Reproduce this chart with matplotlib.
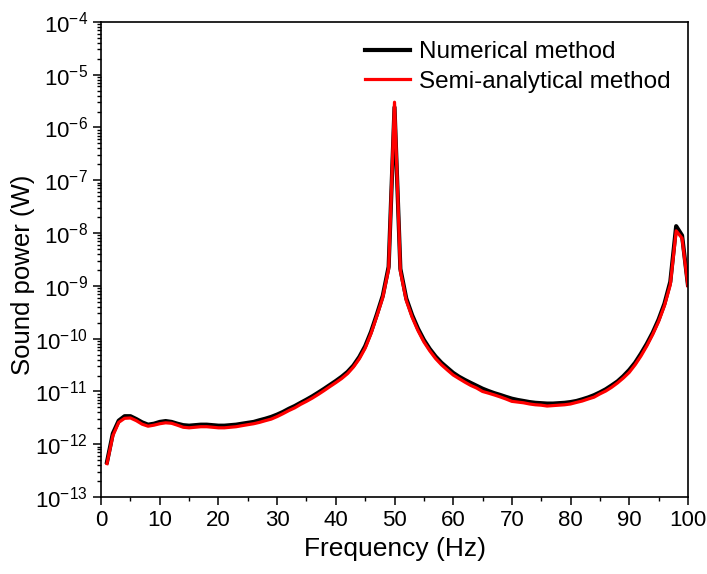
"""
Sound power spectrum: numerical vs semi-analytical method.
"""

import numpy as np
import matplotlib
matplotlib.use("Agg")
import matplotlib.pyplot as plt
from matplotlib.ticker import LogLocator, MultipleLocator, NullFormatter

plt.rcParams["font.family"] = ["Liberation Sans", "DejaVu Sans"]
plt.rcParams["mathtext.fontset"] = "custom"
plt.rcParams["mathtext.rm"] = "Liberation Sans"
plt.rcParams["mathtext.it"] = "Liberation Sans:italic"
plt.rcParams["mathtext.bf"] = "Liberation Sans:bold"

# ── Data ──────────────────────────────────────────────────────
freq = list(range(1, 101))

numerical = [
    4.6e-13, 1.6e-12, 2.8e-12, 3.4e-12, 3.4e-12, 3.0e-12, 2.6e-12, 2.35e-12, 2.45e-12, 2.65e-12,
    2.75e-12, 2.65e-12, 2.45e-12, 2.3e-12, 2.25e-12, 2.3e-12, 2.35e-12, 2.35e-12, 2.3e-12, 2.25e-12,
    2.25e-12, 2.3e-12, 2.35e-12, 2.45e-12, 2.55e-12, 2.65e-12, 2.85e-12, 3.05e-12, 3.3e-12, 3.65e-12,
    4.1e-12, 4.7e-12, 5.3e-12, 6.1e-12, 7.0e-12, 8.1e-12, 9.5e-12, 1.12e-11, 1.33e-11, 1.58e-11,
    1.9e-11, 2.35e-11, 3.1e-11, 4.5e-11, 7.2e-11, 1.35e-10, 2.9e-10, 6.5e-10, 2.3e-9, 2.4e-6,
    2.1e-9, 5.8e-10, 2.8e-10, 1.55e-10, 9.5e-11, 6.4e-11, 4.6e-11, 3.5e-11, 2.8e-11, 2.25e-11,
    1.9e-11, 1.65e-11, 1.45e-11, 1.28e-11, 1.13e-11, 1.02e-11, 9.3e-12, 8.6e-12, 7.9e-12, 7.3e-12,
    6.9e-12, 6.6e-12, 6.3e-12, 6.1e-12, 6.0e-12, 5.9e-12, 5.9e-12, 6.0e-12, 6.1e-12, 6.3e-12,
    6.6e-12, 7.1e-12, 7.7e-12, 8.5e-12, 9.6e-12, 1.1e-11, 1.3e-11, 1.55e-11, 1.95e-11, 2.55e-11,
    3.5e-11, 5.2e-11, 8.0e-11, 1.3e-10, 2.3e-10, 4.6e-10, 1.2e-9, 1.35e-8, 9.0e-9, 1.05e-9,
]

semi_analytical = [
    4.3e-13, 1.45e-12, 2.6e-12, 3.1e-12, 3.15e-12, 2.8e-12, 2.4e-12, 2.2e-12, 2.3e-12, 2.45e-12,
    2.55e-12, 2.5e-12, 2.3e-12, 2.1e-12, 2.05e-12, 2.1e-12, 2.15e-12, 2.15e-12, 2.1e-12, 2.05e-12,
    2.05e-12, 2.1e-12, 2.15e-12, 2.25e-12, 2.35e-12, 2.45e-12, 2.6e-12, 2.8e-12, 3.0e-12, 3.35e-12,
    3.8e-12, 4.35e-12, 4.9e-12, 5.7e-12, 6.5e-12, 7.5e-12, 8.8e-12, 1.04e-11, 1.24e-11, 1.47e-11,
    1.76e-11, 2.18e-11, 2.9e-11, 4.15e-11, 6.6e-11, 1.25e-10, 2.7e-10, 6.0e-10, 2.1e-9, 3.0e-6,
    1.9e-9, 5.3e-10, 2.55e-10, 1.42e-10, 8.7e-11, 5.9e-11, 4.2e-11, 3.2e-11, 2.55e-11, 2.05e-11,
    1.75e-11, 1.5e-11, 1.3e-11, 1.16e-11, 1.0e-11, 9.3e-12, 8.6e-12, 7.9e-12, 7.2e-12, 6.5e-12,
    6.3e-12, 6.1e-12, 5.8e-12, 5.6e-12, 5.5e-12, 5.3e-12, 5.4e-12, 5.5e-12, 5.6e-12, 5.8e-12,
    6.2e-12, 6.6e-12, 7.2e-12, 7.8e-12, 9.0e-12, 1.02e-11, 1.2e-11, 1.45e-11, 1.8e-11, 2.3e-11,
    3.2e-11, 4.7e-11, 7.3e-11, 1.2e-10, 2.1e-10, 4.2e-10, 1.05e-9, 1.1e-8, 8.0e-9, 1.0e-9,
]

# ── Plot ───────────────────────────────────────────────────────
fig = plt.figure(figsize=(7.07, 5.74), dpi=100)
ax = fig.add_axes([0.143, 0.134, 0.830, 0.828])

ax.plot(freq, numerical, color="black", lw=3.0, label="Numerical method")
ax.plot(freq, semi_analytical, color="red", lw=2.3, label="Semi-analytical method")

ax.set_yscale("log")
ax.set_xlim(0, 100)
ax.set_ylim(1e-13, 1e-4)

ax.xaxis.set_major_locator(MultipleLocator(10))
ax.xaxis.set_minor_locator(MultipleLocator(5))
ax.yaxis.set_major_locator(LogLocator(base=10, numticks=20))
ax.yaxis.set_minor_locator(LogLocator(base=10, subs=np.arange(2, 10), numticks=20))
ax.yaxis.set_minor_formatter(NullFormatter())

ax.tick_params(which="major", direction="out", length=6, width=1.1,
               labelsize=16, top=False, right=False)
ax.tick_params(which="minor", direction="out", length=3, width=1.0,
               top=False, right=False)
for sp in ax.spines.values():
    sp.set_linewidth(1.2)

ax.set_xlabel("Frequency (Hz)", fontsize=19, labelpad=4)
ax.set_ylabel("Sound power (W)", fontsize=18.5)
ax.yaxis.set_label_coords(-0.112, 0.467)

ax.legend(loc="upper right", frameon=False, fontsize=17.5,
          handlelength=1.85, handletextpad=0.37, labelspacing=0.3,
          borderaxespad=0.3, bbox_to_anchor=(1.0, 0.995))

fig.savefig("out.png", dpi=100)
plt.close(fig)
